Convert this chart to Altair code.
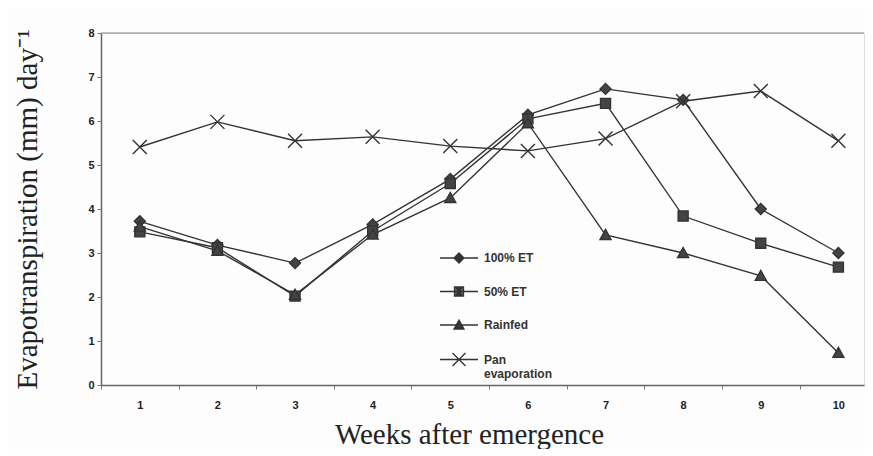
import altair as alt
import pandas as pd

weeks = [1, 2, 3, 4, 5, 6, 7, 8, 9, 10]
et100 = [3.72, 3.18, 2.77, 3.65, 4.68, 6.14, 6.73, 6.48, 4.00, 3.00]
et50 = [3.48, 3.12, 2.02, 3.50, 4.58, 6.05, 6.40, 3.84, 3.22, 2.68]
rainfed = [3.60, 3.05, 2.05, 3.42, 4.25, 5.95, 3.41, 3.00, 2.48, 0.73]
pan = [5.41, 5.98, 5.55, 5.64, 5.43, 5.32, 5.60, 6.45, 6.68, 5.55]

series_names = ["100% ET", "50% ET", "Rainfed", "Pan evaporation"]
series_values = [et100, et50, rainfed, pan]

rows = []
for name, vals in zip(series_names, series_values):
    for w, v in zip(weeks, vals):
        rows.append({"week": w, "value": v, "series": name, "legend_series": name})
df = pd.DataFrame(rows)

INK = "#333333"
FILL = "#444444"

x_enc = alt.X(
    "week:Q",
    scale=alt.Scale(domain=[0.5, 10.33], nice=False, zero=False),
    axis=alt.Axis(
        values=[0.5, 1.5, 2.5, 3.5, 4.5, 5.5, 6.5, 7.5, 8.5, 9.5],
        labelExpr="datum.value + 0.5",
        labelOffset=38.8,
        labelFlush=False,
        labelFont="Liberation Sans",
        labelFontSize=11,
        labelFontWeight="bold",
        labelColor="#222222",
        labelPadding=10,
        tickSize=4,
        tickColor="#777777",
        domainColor="#666666",
        domainWidth=1.5,
        grid=False,
        title="Weeks after emergence",
        titleFont="Liberation Serif",
        titleFontSize=29,
        titleFontWeight="normal",
        titleColor="#222222",
        titlePadding=10,
        titleX=368,
    ),
)
y_enc = alt.Y(
    "value:Q",
    scale=alt.Scale(domain=[0, 8], nice=False),
    axis=alt.Axis(
        values=[0, 1, 2, 3, 4, 5, 6, 7, 8],
        labelFont="Liberation Sans",
        labelFontSize=11,
        labelFontWeight="bold",
        labelColor="#222222",
        labelPadding=3,
        tickSize=4,
        tickColor="#777777",
        domainColor="#666666",
        domainWidth=1.5,
        grid=False,
        title="Evapotranspiration (mm) day\u207b\u00b9",
        titleFont="Liberation Serif",
        titleFontSize=29,
        titleFontWeight="normal",
        titleColor="#222222",
        titlePadding=45,
    ),
)

base = alt.Chart(df)

lines = base.mark_line(color=INK, strokeWidth=1.4).encode(
    x=x_enc, y=y_enc, detail="series:N"
)

points = base.mark_point(
    filled=True, fill=FILL, stroke=INK, strokeWidth=1.4, opacity=1, size=100
).encode(
    x="week:Q",
    y="value:Q",
    shape=alt.Shape(
        "series:N",
        scale=alt.Scale(
            domain=series_names,
            range=[
                "M0,-1.1L1.1,0L0,1.1L-1.1,0Z",
                "M-1,-1H1V1H-1Z",
                "M0,-1.1L1.1,0.9L-1.1,0.9Z",
                "M-1.4,-1.4L1.4,1.4M-1.4,1.4L1.4,-1.4",
            ],
        ),
        legend=None,
    ),
)

# legend-only layer: no rows drawn, the shape scale (explicit domain) feeds the legend.
# Symbols: a line through the marker; nested outlines make the marker look solid.
legend_layer = base.transform_filter("datum.week < 0").mark_point(
    color=INK, strokeWidth=1.3, opacity=1, size=100
).encode(
    x="week:Q",
    y="value:Q",
    shape=alt.Shape(
        "legend_series:N",
        scale=alt.Scale(
            domain=series_names,
            range=[
                "M-3.8,0H3.8M0,-1L1,0L0,1L-1,0ZM0,-0.7L0.7,0L0,0.7L-0.7,0ZM0,-0.4L0.4,0L0,0.4L-0.4,0ZM0,-0.15L0.15,0L0,0.15L-0.15,0Z",
                "M-3.8,0H3.8M-0.9,-0.9H0.9V0.9H-0.9ZM-0.6,-0.6H0.6V0.6H-0.6ZM-0.3,-0.3H0.3V0.3H-0.3Z",
                "M-3.8,0H3.8M0,-1L1,0.8L-1,0.8ZM0,-0.58L0.65,0.59L-0.65,0.59ZM0,-0.16L0.3,0.38L-0.3,0.38Z",
                "M-3.8,0H3.8M-1.3,-1.3L1.3,1.3M-1.3,1.3L1.3,-1.3",
            ],
        ),
        legend=alt.Legend(
            title=None,
            orient="none",
            legendX=352,
            legendY=219,
            padding=0,
            symbolSize=100,
            symbolStrokeWidth=1.3,
            symbolOpacity=1,
            labelOffset=19,
            labelFont="Liberation Sans",
            labelFontSize=12,
            labelFontWeight="bold",
            labelColor="#333333",
            labelExpr="datum.label == 'Pan evaporation' ? ['Pan', 'evaporation'] : datum.label",
            rowPadding=17.5,
            labelLimit=200,
        ),
    ),
)

top_border = alt.Chart(pd.DataFrame({"v": [8]})).mark_rule(
    color="#888888", strokeWidth=1.2
).encode(y="v:Q")

chart = (
    alt.layer(top_border, lines, points, legend_layer)
    .resolve_scale(shape="independent")
    .properties(width=763, height=352, padding={"left": 5, "top": 19, "right": 0, "bottom": 0})
    .configure_view(stroke=None)
    .configure(background="#fdfdfd")
)

chart.save("out.html", embed_options={"renderer": "svg", "actions": False})
